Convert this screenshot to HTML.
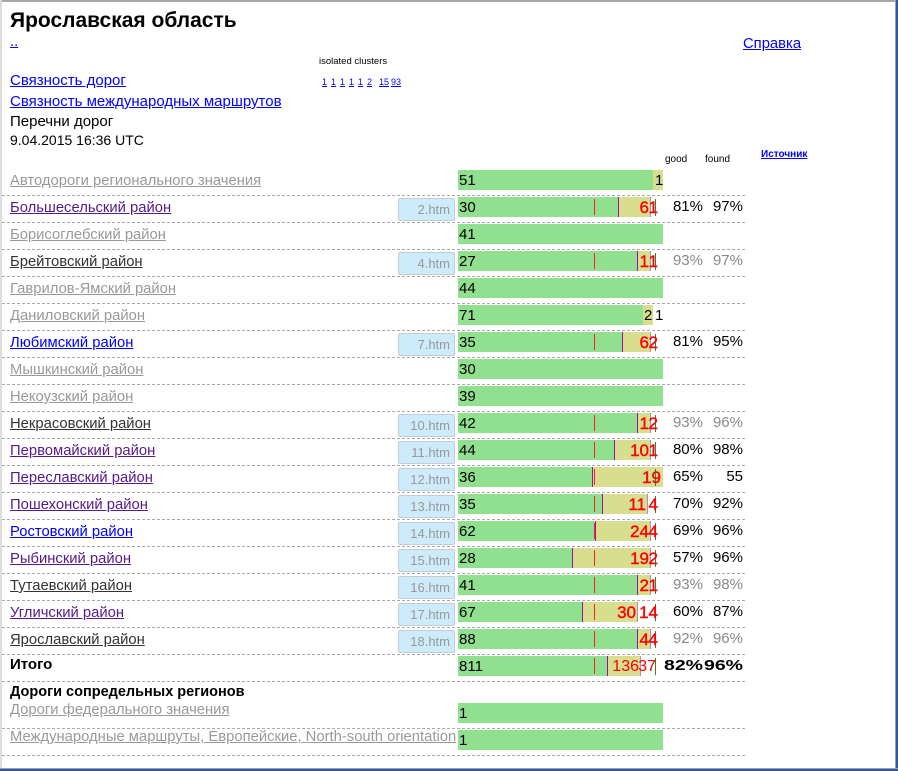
<!DOCTYPE html>
<html><head><meta charset="utf-8">
<style>
*{margin:0;padding:0;box-sizing:border-box}
body{width:898px;height:771px;overflow:hidden;background:#fff;font-family:"Liberation Sans","DejaVu Sans",sans-serif}
#f{position:relative;width:898px;height:771px;background:#fff}
.a{position:absolute;white-space:nowrap}
.lk{font-size:14.8px;line-height:22px;text-decoration:underline}
.bl{color:#0000ff}.vi{color:#551a8b}.dk{color:#333}.gr{color:#999}
.sep{position:absolute;left:2px;width:743px;height:1px;background:repeating-linear-gradient(to right,#aaa 0 3px,transparent 3px 5px)}
.bx{position:absolute;left:398px;width:57px;height:23px;background:#cdebfb;border:1px solid #c4ccd4;border-radius:2px;color:#999;font-size:13px;text-align:right;padding-right:4px;line-height:21px}
.bar{position:absolute;left:458px;width:205px;height:20px}
.g{position:absolute;top:0;left:0;height:20px;background:#91e08f}
.y{position:absolute;top:0;height:20px;background:#d7df8f}
.pl{position:absolute;top:0;width:1px;height:20px;background:#a0109a}
.el{position:absolute;top:0;width:1px;height:20px;background:#b888b8}
.rm{position:absolute;top:2px;left:136px;width:1px;height:16px;background:#ff2020}
.gl{position:absolute;top:2px;left:197px;width:1px;height:17px;background:#2a8a2a}
.n{position:absolute;top:0;left:1px;font-size:15px;line-height:22px;color:#000}
.r{position:absolute;top:0;font-size:17px;line-height:22px;color:#ff0000;-webkit-text-stroke:0.4px #ff0000}
.p1,.p2{position:absolute;width:50px;text-align:right;font-size:15px;line-height:20px}
.p1{left:653px}.p2{left:693px}
.pk{color:#000}.pg{color:#888}
.sm{font-size:10px;line-height:12px}
.t9{font-size:9px;line-height:12px}
.tb{display:inline-block;font-weight:bold;transform:scaleX(1.3);transform-origin:right center}
</style></head><body><div id="f">
<div class="a" style="left:0;top:0;width:898px;height:2px;background:#a8a8a8"></div>
<div class="a" style="left:0;top:0;width:2px;height:771px;background:#dcdcdc"></div>
<div class="a" style="left:895px;top:0;width:1px;height:771px;background:#a0a0a0"></div>
<div class="a" style="left:896px;top:0;width:2px;height:771px;background:#2a5aa8"></div>
<div class="a" style="left:0;top:768px;width:898px;height:1px;background:#a0a0a0"></div>
<div class="a" style="left:0;top:769px;width:898px;height:2px;background:#2a5aa8"></div>

<div class="a" style="left:10px;top:9px;font-size:21px;font-weight:bold;line-height:24px;color:#000">Ярославская область</div>
<div class="a bl" style="left:10px;top:32px;font-size:14.8px;line-height:20px;text-decoration:underline">..</div>
<div class="a bl" style="left:743px;top:34px;font-size:14.8px;line-height:20px;text-decoration:underline">Справка</div>
<div class="a" style="left:319px;top:56px;font-size:9.5px;line-height:12px;color:#000">isolated clusters</div>
<div class="a t9 bl" style="left:322px;top:76px;text-decoration:underline">1</div>
<div class="a t9 bl" style="left:331px;top:76px;text-decoration:underline">1</div>
<div class="a t9 bl" style="left:340px;top:76px;text-decoration:underline">1</div>
<div class="a t9 bl" style="left:349px;top:76px;text-decoration:underline">1</div>
<div class="a t9 bl" style="left:358px;top:76px;text-decoration:underline">1</div>
<div class="a t9 bl" style="left:367px;top:76px;text-decoration:underline">2</div>
<div class="a t9 bl" style="left:379px;top:76px;text-decoration:underline">15</div>
<div class="a t9 bl" style="left:391px;top:76px;text-decoration:underline">93</div>
<div class="a bl" style="left:10px;top:71px;font-size:15px;line-height:20px;text-decoration:underline">Связность дорог</div>
<div class="a bl" style="left:10px;top:92px;font-size:15px;line-height:20px;text-decoration:underline">Связность международных маршрутов</div>
<div class="a" style="left:10px;top:112px;font-size:15px;line-height:20px;color:#000">Перечни дорог</div>
<div class="a" style="left:10px;top:130px;font-size:14px;line-height:20px;color:#000">9.04.2015 16:36 UTC</div>
<div class="a sm" style="left:665px;top:154px;color:#000">good</div>
<div class="a sm" style="left:705px;top:154px;color:#000">found</div>
<div class="a sm bl" style="left:761px;top:149px;font-weight:bold;text-decoration:underline">Источник</div>

<!-- row 0 -->
<div class="a lk gr" style="left:10px;top:170px">Автодороги регионального значения</div>
<div class="bar" style="top:170px"><div class="g" style="width:195px"></div><div class="y" style="left:195px;width:10px"></div><span class="n">51</span><span class="n" style="left:197px">1</span></div>
<div class="sep" style="top:195px"></div>

<!-- row 1 -->
<div class="a lk vi" style="left:10px;top:197px">Большесельский район</div>
<div class="bx" style="top:198px">2.htm</div>
<div class="bar" style="top:197px"><div class="g" style="width:160px"></div><div class="y" style="left:160px;width:32px"></div><div class="pl" style="left:160px"></div><div class="el" style="left:192px"></div><div class="rm"></div><div class="gl"></div><span class="n">30</span><span class="r" style="right:14px">6</span><span class="r" style="right:5px">1</span></div>
<div class="p1 pk" style="top:197px">81%</div><div class="p2 pk" style="top:197px">97%</div>
<div class="sep" style="top:222px"></div>

<!-- row 2 -->
<div class="a lk gr" style="left:10px;top:224px">Борисоглебский район</div>
<div class="bar" style="top:224px"><div class="g" style="width:205px"></div><span class="n">41</span></div>
<div class="sep" style="top:249px"></div>

<!-- row 3 -->
<div class="a lk dk" style="left:10px;top:251px">Брейтовский район</div>
<div class="bx" style="top:252px">4.htm</div>
<div class="bar" style="top:251px"><div class="g" style="width:179px"></div><div class="y" style="left:179px;width:13px"></div><div class="pl" style="left:179px"></div><div class="el" style="left:192px"></div><div class="rm"></div><div class="gl"></div><span class="n">27</span><span class="r" style="right:14px">1</span><span class="r" style="right:5px">1</span></div>
<div class="p1 pg" style="top:251px">93%</div><div class="p2 pg" style="top:251px">97%</div>
<div class="sep" style="top:276px"></div>

<!-- row 4 -->
<div class="a lk gr" style="left:10px;top:278px">Гаврилов-Ямский район</div>
<div class="bar" style="top:278px"><div class="g" style="width:205px"></div><span class="n">44</span></div>
<div class="sep" style="top:303px"></div>

<!-- row 5 -->
<div class="a lk gr" style="left:10px;top:305px">Даниловский район</div>
<div class="bar" style="top:305px"><div class="g" style="width:185px"></div><div class="y" style="left:185px;width:10px"></div><span class="n">71</span><span class="n" style="left:186px">2</span><span class="n" style="left:197px">1</span></div>
<div class="sep" style="top:330px"></div>

<!-- row 6 -->
<div class="a lk bl" style="left:10px;top:332px">Любимский район</div>
<div class="bx" style="top:333px">7.htm</div>
<div class="bar" style="top:332px"><div class="g" style="width:164px"></div><div class="y" style="left:164px;width:28px"></div><div class="pl" style="left:164px"></div><div class="el" style="left:192px"></div><div class="rm"></div><div class="gl"></div><span class="n">35</span><span class="r" style="right:14px">6</span><span class="r" style="right:5px">2</span></div>
<div class="p1 pk" style="top:332px">81%</div><div class="p2 pk" style="top:332px">95%</div>
<div class="sep" style="top:357px"></div>

<!-- row 7 -->
<div class="a lk gr" style="left:10px;top:359px">Мышкинский район</div>
<div class="bar" style="top:359px"><div class="g" style="width:205px"></div><span class="n">30</span></div>
<div class="sep" style="top:384px"></div>

<!-- row 8 -->
<div class="a lk gr" style="left:10px;top:386px">Некоузский район</div>
<div class="bar" style="top:386px"><div class="g" style="width:205px"></div><span class="n">39</span></div>
<div class="sep" style="top:411px"></div>

<!-- row 9 -->
<div class="a lk dk" style="left:10px;top:413px">Некрасовский район</div>
<div class="bx" style="top:414px">10.htm</div>
<div class="bar" style="top:413px"><div class="g" style="width:179px"></div><div class="y" style="left:179px;width:13px"></div><div class="pl" style="left:179px"></div><div class="el" style="left:192px"></div><div class="rm"></div><div class="gl"></div><span class="n">42</span><span class="r" style="right:14px">1</span><span class="r" style="right:5px">2</span></div>
<div class="p1 pg" style="top:413px">93%</div><div class="p2 pg" style="top:413px">96%</div>
<div class="sep" style="top:438px"></div>

<!-- row 10 -->
<div class="a lk vi" style="left:10px;top:440px">Первомайский район</div>
<div class="bx" style="top:441px">11.htm</div>
<div class="bar" style="top:440px"><div class="g" style="width:156px"></div><div class="y" style="left:156px;width:36px"></div><div class="pl" style="left:156px"></div><div class="el" style="left:192px"></div><div class="rm"></div><div class="gl"></div><span class="n">44</span><span class="r" style="right:14px">10</span><span class="r" style="right:5px">1</span></div>
<div class="p1 pk" style="top:440px">80%</div><div class="p2 pk" style="top:440px">98%</div>
<div class="sep" style="top:465px"></div>

<!-- row 11 -->
<div class="a lk vi" style="left:10px;top:467px">Переславский район</div>
<div class="bx" style="top:468px">12.htm</div>
<div class="bar" style="top:467px"><div class="g" style="width:134px"></div><div class="y" style="left:134px;width:71px"></div><div class="pl" style="left:134px"></div><div class="rm"></div><div class="gl"></div><span class="n">36</span><span class="r" style="right:2px">19</span></div>
<div class="p1 pk" style="top:467px">65%</div><div class="p2 pk" style="top:467px">55</div>
<div class="sep" style="top:492px"></div>

<!-- row 12 -->
<div class="a lk vi" style="left:10px;top:494px">Пошехонский район</div>
<div class="bx" style="top:495px">13.htm</div>
<div class="bar" style="top:494px"><div class="g" style="width:144px"></div><div class="y" style="left:144px;width:46px"></div><div class="pl" style="left:144px"></div><div class="el" style="left:189px"></div><div class="rm"></div><div class="gl"></div><span class="n">35</span><span class="r" style="right:17px">11</span><span class="r" style="right:5px">4</span></div>
<div class="p1 pk" style="top:494px">70%</div><div class="p2 pk" style="top:494px">92%</div>
<div class="sep" style="top:519px"></div>

<!-- row 13 -->
<div class="a lk bl" style="left:10px;top:521px">Ростовский район</div>
<div class="bx" style="top:522px">14.htm</div>
<div class="bar" style="top:521px"><div class="g" style="width:137px"></div><div class="y" style="left:137px;width:55px"></div><div class="rm"></div><div class="pl" style="left:137px"></div><div class="el" style="left:192px"></div><div class="gl"></div><span class="n">62</span><span class="r" style="right:14px">24</span><span class="r" style="right:5px">4</span></div>
<div class="p1 pk" style="top:521px">69%</div><div class="p2 pk" style="top:521px">96%</div>
<div class="sep" style="top:546px"></div>

<!-- row 14 -->
<div class="a lk vi" style="left:10px;top:548px">Рыбинский район</div>
<div class="bx" style="top:549px">15.htm</div>
<div class="bar" style="top:548px"><div class="g" style="width:115px"></div><div class="y" style="left:115px;width:77px"></div><div class="pl" style="left:114px"></div><div class="el" style="left:192px"></div><div class="rm"></div><div class="gl"></div><span class="n">28</span><span class="r" style="right:14px">19</span><span class="r" style="right:5px">2</span></div>
<div class="p1 pk" style="top:548px">57%</div><div class="p2 pk" style="top:548px">96%</div>
<div class="sep" style="top:573px"></div>

<!-- row 15 -->
<div class="a lk dk" style="left:10px;top:575px">Тутаевский район</div>
<div class="bx" style="top:576px">16.htm</div>
<div class="bar" style="top:575px"><div class="g" style="width:179px"></div><div class="y" style="left:179px;width:13px"></div><div class="pl" style="left:179px"></div><div class="el" style="left:192px"></div><div class="rm"></div><div class="gl"></div><span class="n">41</span><span class="r" style="right:14px">2</span><span class="r" style="right:5px">1</span></div>
<div class="p1 pg" style="top:575px">93%</div><div class="p2 pg" style="top:575px">98%</div>
<div class="sep" style="top:600px"></div>

<!-- row 16 -->
<div class="a lk vi" style="left:10px;top:602px">Угличский район</div>
<div class="bx" style="top:603px">17.htm</div>
<div class="bar" style="top:602px"><div class="g" style="width:124px"></div><div class="y" style="left:124px;width:55px"></div><div class="pl" style="left:124px"></div><div class="el" style="left:179px"></div><div class="rm"></div><div class="gl"></div><span class="n">67</span><span class="r" style="right:27px">30</span><span class="r" style="right:5px">14</span></div>
<div class="p1 pk" style="top:602px">60%</div><div class="p2 pk" style="top:602px">87%</div>
<div class="sep" style="top:627px"></div>

<!-- row 17 -->
<div class="a lk dk" style="left:10px;top:629px">Ярославский район</div>
<div class="bx" style="top:630px">18.htm</div>
<div class="bar" style="top:629px"><div class="g" style="width:179px"></div><div class="y" style="left:179px;width:13px"></div><div class="pl" style="left:179px"></div><div class="el" style="left:192px"></div><div class="rm"></div><div class="gl"></div><span class="n">88</span><span class="r" style="right:14px">4</span><span class="r" style="right:5px">4</span></div>
<div class="p1 pg" style="top:629px">92%</div><div class="p2 pg" style="top:629px">96%</div>
<div class="sep" style="top:654px"></div>

<!-- total -->
<div class="a" style="left:10px;top:655px;font-size:15px;font-weight:bold;line-height:20px;color:#000">Итого</div>
<div class="bar" style="top:656px"><div class="g" style="width:149px"></div><div class="y" style="left:149px;width:33px"></div><div class="pl" style="left:149px"></div><div class="el" style="left:182px"></div><div class="rm"></div><div class="gl"></div><span class="n">811</span><span class="r" style="right:24px;font-size:16px;-webkit-text-stroke:0">136</span><span class="r" style="right:7px;font-size:16px;-webkit-text-stroke:0">37</span></div>
<div class="p1 pk" style="top:656px"><span class="tb">82%</span></div><div class="p2 pk" style="top:656px"><span class="tb">96%</span></div>
<div class="sep" style="top:681px"></div>

<div class="a" style="left:10px;top:682px;font-size:14.5px;font-weight:bold;line-height:20px;color:#000">Дороги сопредельных регионов</div>

<div class="a gr" style="left:10px;top:700px;font-size:14.8px;line-height:20px;text-decoration:underline">Дороги федерального значения</div>
<div class="bar" style="top:703px"><div class="g" style="width:205px"></div><span class="n">1</span></div>
<div class="sep" style="top:728px"></div>

<div class="a gr" style="left:10px;top:727px;font-size:14.8px;line-height:20px;text-decoration:underline">Международные маршруты, Европейские, North-south orientation</div>
<div class="bar" style="top:730px"><div class="g" style="width:205px"></div><span class="n">1</span></div>
<div class="sep" style="top:755px"></div>
</div></body></html>
